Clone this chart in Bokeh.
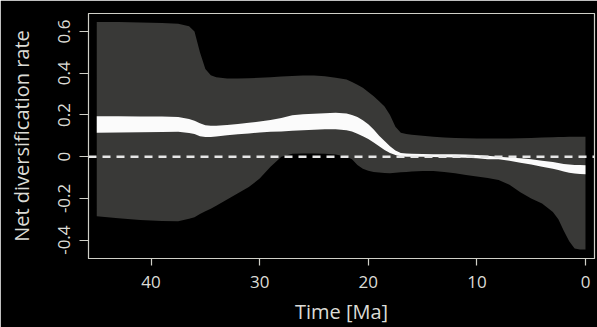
from bokeh.plotting import figure
from bokeh.models import Range1d, FixedTicker, Span, ColumnDataSource
from bokeh.embed import file_html
from bokeh.resources import INLINE

# Time before present (Ma)
time_ma = [45, 43, 41, 39, 37.5, 36.5, 36, 35.5, 35, 34.5, 34, 33, 32, 31, 30, 29, 28, 27,
           26, 25, 24, 23, 22, 21.5, 21, 20.5, 20, 19.5, 19, 18.5, 18, 17.5, 17, 16.5, 16,
           15, 14, 13, 12, 11, 10, 9, 8, 7, 6, 5, 4, 3, 2.5, 2, 1.5, 1, 0.5, 0]

# 95% interval of net diversification rate (grey band)
ci_upper = [0.645, 0.645, 0.643, 0.640, 0.637, 0.625, 0.600, 0.500, 0.420, 0.390, 0.380, 0.375,
            0.375, 0.376, 0.378, 0.380, 0.384, 0.387, 0.389, 0.389, 0.385, 0.378, 0.370, 0.358,
            0.345, 0.330, 0.310, 0.290, 0.265, 0.240, 0.200, 0.143, 0.114, 0.108, 0.105, 0.100,
            0.095, 0.092, 0.090, 0.088, 0.087, 0.087, 0.087, 0.087, 0.088, 0.090, 0.092, 0.093,
            0.094, 0.094, 0.095, 0.095, 0.095, 0.095]
ci_lower = [-0.286, -0.295, -0.303, -0.308, -0.310, -0.298, -0.290, -0.275, -0.262, -0.250,
            -0.235, -0.205, -0.175, -0.145, -0.105, -0.048, 0.000, 0.014, 0.015, 0.015, 0.014,
            0.010, 0.000, -0.012, -0.040, -0.058, -0.068, -0.073, -0.076, -0.078, -0.079, -0.077,
            -0.075, -0.073, -0.071, -0.069, -0.069, -0.074, -0.080, -0.088, -0.095, -0.102,
            -0.112, -0.135, -0.170, -0.200, -0.225, -0.265, -0.300, -0.355, -0.405, -0.440,
            -0.445, -0.445]

# Mean rate band (white)
mean_upper = [0.194, 0.194, 0.193, 0.192, 0.190, 0.180, 0.172, 0.160, 0.150, 0.148, 0.148, 0.152,
              0.157, 0.162, 0.168, 0.176, 0.185, 0.198, 0.203, 0.206, 0.208, 0.210, 0.207, 0.200,
              0.190, 0.175, 0.155, 0.130, 0.100, 0.075, 0.050, 0.030, 0.018, 0.015, 0.014, 0.013,
              0.012, 0.012, 0.011, 0.010, 0.008, 0.004, 0.000, -0.004, -0.008, -0.013, -0.019,
              -0.026, -0.030, -0.035, -0.038, -0.040, -0.040, -0.041]
mean_lower = [0.115, 0.116, 0.117, 0.118, 0.119, 0.113, 0.108, 0.098, 0.094, 0.094, 0.097, 0.102,
              0.107, 0.111, 0.116, 0.119, 0.121, 0.124, 0.127, 0.129, 0.131, 0.131, 0.127, 0.120,
              0.110, 0.098, 0.085, 0.068, 0.050, 0.032, 0.018, 0.008, 0.002, 0.000, 0.000, -0.001,
              -0.002, -0.003, -0.004, -0.005, -0.008, -0.012, -0.013, -0.020, -0.029, -0.038,
              -0.048, -0.058, -0.064, -0.071, -0.077, -0.081, -0.083, -0.084]

x_ticks = [40, 30, 20, 10, 0]
x_tick_labels = ["40", "30", "20", "10", "0"]
y_ticks = [-0.4, -0.2, 0, 0.2, 0.4, 0.6]
y_tick_labels = ["-0.4", "-0.2", "0", "0.2", "0.4", "0.6"]

src = ColumnDataSource(dict(t=time_ma, cu=ci_upper, cl=ci_lower, mu=mean_upper, ml=mean_lower))

TXT = "#dcdcd6"
FONT = "Open Sans"

p = figure(width=597, height=327, output_backend="svg", toolbar_location=None,
           x_range=Range1d(45.76, -0.83), y_range=Range1d(-0.488, 0.686),
           min_border_left=88, min_border_right=3, min_border_top=13, min_border_bottom=68)

p.background_fill_color = "black"
p.border_fill_color = "black"
p.outline_line_color = "#d0d0c8"
p.outline_line_width = 1.2
p.grid.visible = False

p.varea(x="t", y1="cl", y2="cu", source=src, fill_color="#393937")
p.varea(x="t", y1="ml", y2="mu", source=src, fill_color="#fbfbfb")

p.add_layout(Span(location=0, dimension="width", line_color="#e6e6e6",
                  line_width=2.5, line_dash="8 6"))

for ax in (p.xaxis[0], p.yaxis[0]):
    ax.axis_line_color = "#d0d0c8"
    ax.major_tick_line_color = "#d0d0c8"
    ax.major_tick_line_width = 1.2
    ax.minor_tick_line_color = None
    ax.major_tick_in = 0
    ax.major_label_text_color = TXT
    ax.major_label_text_font = FONT
    ax.major_label_text_font_size = "17px"
    ax.axis_label_text_color = TXT
    ax.axis_label_text_font = FONT
    ax.axis_label_text_font_size = "20px"
    ax.axis_label_text_font_style = "normal"

p.xaxis[0].ticker = FixedTicker(ticks=x_ticks)
p.xaxis[0].major_label_overrides = {t: l for t, l in zip(x_ticks, x_tick_labels)}
p.xaxis[0].major_tick_out = 7
p.xaxis[0].major_label_standoff = 10
p.xaxis[0].axis_label = "Time [Ma]"
p.xaxis[0].axis_label_standoff = 7

p.yaxis[0].ticker = FixedTicker(ticks=y_ticks)
p.yaxis[0].major_label_overrides = {t: l for t, l in zip(y_ticks, y_tick_labels)}
p.yaxis[0].major_tick_out = 9
p.yaxis[0].major_label_standoff = 9
p.yaxis[0].major_label_orientation = "vertical"
p.yaxis[0].axis_label = "Net diversification rate"
p.yaxis[0].axis_label_standoff = 21

open("out.html", "w").write(file_html(p, INLINE))
